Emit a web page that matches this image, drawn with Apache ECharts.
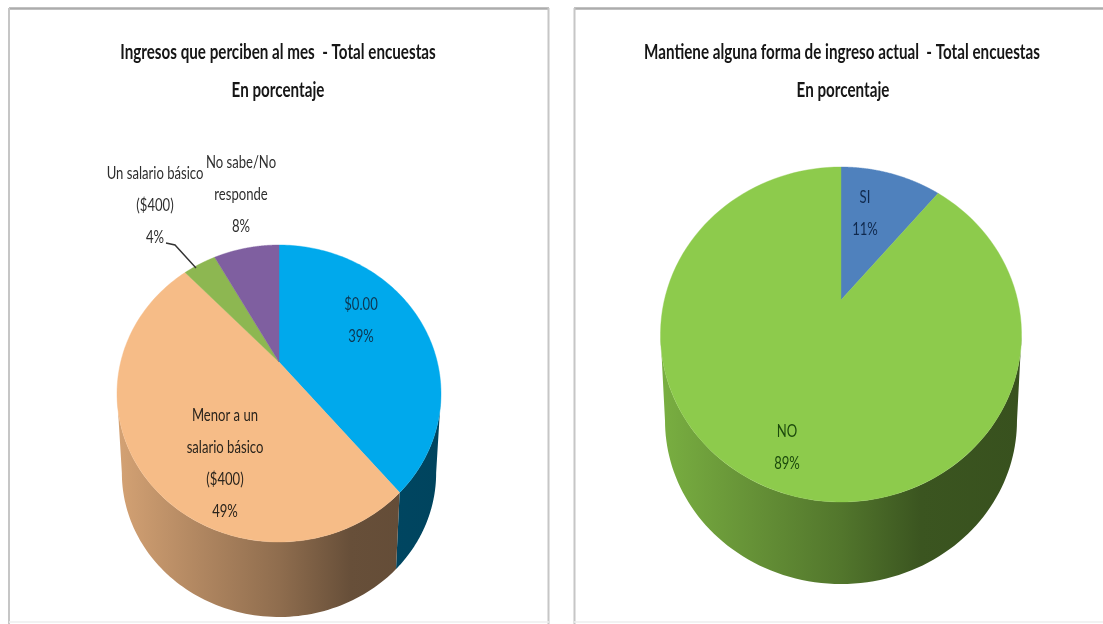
<!DOCTYPE html>
<html><head><meta charset="utf-8">
<style>html,body{margin:0;padding:0;background:#fff}#c{width:1103px;height:624px;filter:blur(0.45px)}</style>
<script src="https://cdn.jsdelivr.net/npm/echarts@6/dist/echarts.min.js"></script>
</head><body><div id="c"></div>
<script>
// ---- data ----
const leftTitle = 'Ingresos que perciben al mes  - Total encuestas';
const rightTitle = 'Mantiene alguna forma de ingreso actual  - Total encuestas';
const subTitle = 'En porcentaje';
const leftCategories = ['$0.00', 'Menor a un\nsalario básico\n($400)', 'Un salario básico\n($400)', 'No sabe/No\nresponde'];
const leftValues = [39, 49, 4, 8];
const leftColors = ['#00A9EC', '#F6BC87', '#8DB751', '#7F5FA0'];
const rightCategories = ['SI', 'NO'];
const rightValues = [11, 89];
const rightColors = ['#4F81BD', '#8DCB4C'];

// ---- layout (pixels) ----
const FONT = 'Lato,"Liberation Sans",sans-serif';
const TITLE_SCALE = 0.724, LABEL_SCALE = 0.77;
const leftPie = {cx:279, apex:362, top:245, bottom:542, halfW:162, floor:617, shrink:0.97,
  labels:[[361,289,'#0d3550'],[225,400,'#2a241c'],[155,158,'#2e2e2e'],[241,147,'#2e2e2e']]};
const rightPie = {cx:841, apex:300, top:167, bottom:502, halfW:180.5, floor:584, shrink:0.975,
  labels:[[865,182,'#10294d'],[787,416,'#1c4a0c']]};

function mapper(p){
  const a = p.apex - p.top, b = p.bottom - p.apex;
  const k = (b - a) / (b + a);
  const B = a * (1 + k);
  const A = p.halfW * Math.sqrt(1 - k * k);
  const floorShift = p.floor - p.apex - p.shrink * b;
  return {
    k,
    top: t => { const u = Math.sin(t), v = Math.cos(t), w = 1 + k * v;
      return [p.cx + A * u / w, p.apex - B * v / w]; },
    low: t => { const u = Math.sin(t), v = Math.cos(t), w = 1 + k * v;
      return [p.cx + p.shrink * A * u / w, p.apex + floorShift - p.shrink * B * v / w]; }
  };
}
function shade(hex, f){
  const n = parseInt(hex.slice(1), 16);
  const c = s => Math.round(((n >> s) & 255) * f);
  return 'rgb(' + c(16) + ',' + c(8) + ',' + c(0) + ')';
}
const SHADE = [[0,0.86],[0.25,0.72],[0.5,0.58],[0.72,0.42],[1,0.40]];

function pieSeries(values, names, colors, p){
  const total = values.reduce((s, v) => s + v, 0);
  const m = mapper(p);
  const tanL = 2 * Math.PI - Math.acos(-m.k), tanR = Math.acos(-m.k);
  const starts = []; let acc = 0;
  values.forEach(v => { starts.push(acc); acc += v; });
  return {
    type: 'custom', coordinateSystem: 'none', silent: true, clip: false,
    data: values.map((v, i) => ({value: [v, i], name: names[i]})),
    renderItem: function(params, api){
      const i = api.value(1), val = api.value(0);
      const t0 = starts[i] / total * 2 * Math.PI, t1 = (starts[i] + val) / total * 2 * Math.PI;
      const children = [];
      const a0 = Math.max(t0, tanR), a1 = Math.min(t1, tanL);
      if (a1 > a0) {
        const up = [], down = [];
        for (let j = 0; j <= 90; j++) {
          const t = a0 + (a1 - a0) * j / 90;
          up.push(m.top(t)); down.unshift(m.low(t));
        }
        const x0 = p.cx - p.halfW, x1 = p.cx + p.halfW;
        const grad = new echarts.graphic.LinearGradient(x0, 0, x1, 0,
          SHADE.map(s => ({offset: s[0], color: shade(colors[i], s[1])})), true);
        children.push({type: 'polygon', z2: 1, shape: {points: up.concat(down)},
          style: {fill: grad, stroke: null}});
      }
      const face = [[p.cx, p.apex]];
      for (let j = 0; j <= 120; j++) face.push(m.top(t0 + (t1 - t0) * j / 120));
      children.push({type: 'polygon', z2: 5, shape: {points: face},
        style: {fill: colors[i], stroke: colors[i], lineWidth: 0.4}});
      const lb = p.labels[i];
      children.push({type: 'text', z2: 20, x: lb[0], y: lb[1], scaleX: LABEL_SCALE,
        style: {text: names[i] + '\n' + val + '%', fill: lb[2], align: 'center', verticalAlign: 'top',
          font: '17px ' + FONT, lineHeight: 32}});
      return {type: 'group', children};
    }
  };
}
function titleText(text, x, y){
  return {type: 'text', x, y, scaleX: TITLE_SCALE, z: 10,
    style: {text, fill: '#161616', align: 'center', verticalAlign: 'middle', font: 'bold 21px ' + FONT}};
}
function rule(x1, y1, x2, y2, color, w){
  return {type: 'line', z: -10, shape: {x1, y1, x2, y2}, style: {stroke: color, lineWidth: w}};
}

const chart = echarts.init(document.getElementById('c'), null, {renderer: 'canvas'});
chart.setOption({
  animation: false,
  backgroundColor: '#fff',
  graphic: [
    rule(9, 8.5, 549, 8.5, '#acacac', 2.5),
    rule(574, 8.5, 1103, 8.5, '#acacac', 2.5),
    rule(9, 8, 9, 624, '#c6c6c6', 2),
    rule(548.5, 8, 548.5, 624, '#c6c6c6', 2),
    rule(574.5, 8, 574.5, 624, '#c6c6c6', 2),
    rule(9, 622, 549, 622, '#eeeeee', 1.5),
    rule(574, 622, 1103, 622, '#eeeeee', 1.5),
    titleText(leftTitle, 278, 52),
    titleText(subTitle, 278, 90),
    titleText(rightTitle, 842, 52),
    titleText(subTitle, 843, 90),
    {type: 'polyline', z: 10, shape: {points: [[166, 243], [175, 245], [196, 268]]}, style: {stroke: '#333', lineWidth: 1.4, fill: null}}
  ],
  series: [
    pieSeries(leftValues, leftCategories, leftColors, leftPie),
    pieSeries(rightValues, rightCategories, rightColors, rightPie)
  ]
});
</script></body></html>
